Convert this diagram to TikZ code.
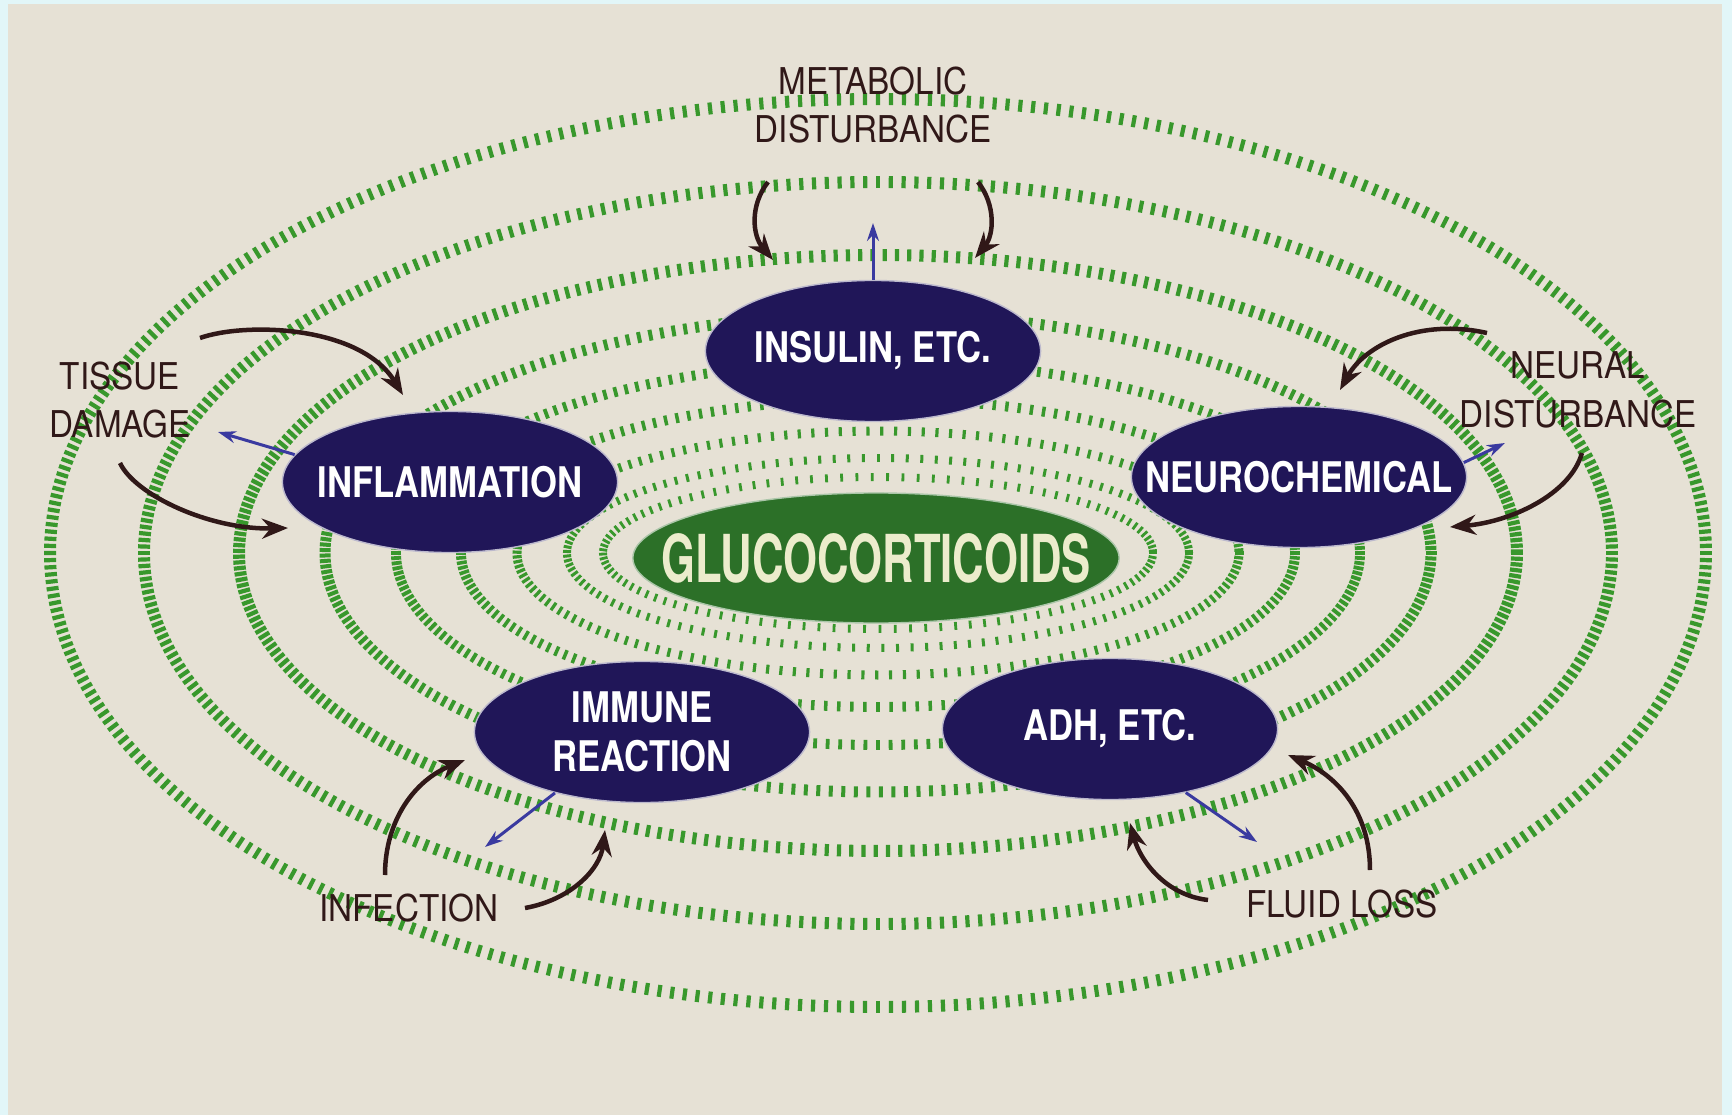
\documentclass[tikz,border=0pt]{standalone}
\usepackage{fontspec}
\setmainfont{TeX Gyre Heros}
\newfontfamily\boxfont[FakeStretch=0.82]{TeX Gyre Heros}
\newfontfamily\corefont[FakeStretch=0.66]{TeX Gyre Heros}
\newfontfamily\labelfont[FakeStretch=0.9]{TeX Gyre Heros}
\usetikzlibrary{positioning,arrows.meta,shapes.geometric}
\definecolor{cslide}{RGB}{230,225,213}
\definecolor{cedge}{RGB}{226,246,248}
\definecolor{cring}{RGB}{56,152,44}
\definecolor{cnavy}{RGB}{32,22,88}
\definecolor{ccore}{RGB}{44,112,40}
\definecolor{ccoretext}{RGB}{236,236,204}
\definecolor{cink}{RGB}{48,24,24}
\definecolor{cout}{RGB}{58,58,160}

\begin{document}
\begin{tikzpicture}[x=0.01cm,y=-0.01cm,
          every node/.style={inner sep=0pt},
          effect/.style={ellipse, fill=cnavy, draw=white!70!cnavy, line width=0.4pt,
          inner xsep=-2cm, inner ysep=-1cm,
          minimum width=3.35cm, minimum height=1.41cm, align=center, text=white,
          font=\boxfont\bfseries\fontsize{12}{14}\selectfont},
          core/.style={ellipse, fill=ccore, draw=white!60!ccore, line width=0.4pt,
          inner xsep=-2cm, inner ysep=-1cm,
          minimum width=4.86cm, minimum height=1.30cm, text=ccoretext,
          font=\corefont\bfseries\fontsize{18.8}{20}\selectfont},
          cause/.style={align=center, text=cink,
          font=\labelfont\fontsize{10.5}{13.8}\selectfont},
          tick/.style={cring},
          push/.style={-{Stealth[length=0.26cm,width=0.2cm]}, cink, line width=0.045cm},
          feed/.style={-{Stealth[length=0.18cm,width=0.12cm]}, cout, line width=0.03cm},
        ]

          % ── Slide ────────────────────────────────────────────
          \useasboundingbox (0,0) rectangle (1732,1115);
          \fill[cedge]  (0,0) rectangle (1732,1115);
          \fill[cslide] (8,4) rectangle (1722,1115);

          % ── Rings of ticks round the core ────────────────────
          % radius x / radius y / half tick / step (deg) / tick width
          \foreach \rx/\ry/\hh/\dang/\tw in {275/76/4/3.2/0.028, 311/95/4/2.7/0.03,
                                   361/122/4.5/2.2/0.032, 417/154/5/1.8/0.035,
                                   482/192/5/1.5/0.038, 553/239/5.5/1.3/0.04,
                                   639/298/6/1.1/0.042, 734/371/6/1.0/0.042, 828/454/6/0.9/0.042}{
            \foreach \ang in {0,\dang,...,359.9}{
              \pgfmathsetmacro\nx{\ry*cos(\ang)}
              \pgfmathsetmacro\ny{\rx*sin(\ang)}
              \pgfmathsetmacro\nl{veclen(\nx,\ny)}
              \draw[tick, line width=\tw cm]
                ({878+\rx*cos(\ang)-\hh*\nx/\nl},{553+\ry*sin(\ang)-\hh*\ny/\nl})
                -- ++({2*\hh*\nx/\nl},{2*\hh*\ny/\nl});
            }
          }

          % ── Effects and core ─────────────────────────────────
          \node[effect] (insulin) at (873,351)  {INSULIN, ETC.};
          \node[effect] (inflam)  at (450,482)  {INFLAMMATION};
          \node[effect] (neuro)   at (1299,477) {NEUROCHEMICAL};
          \node[effect] (immune)  at (642,732)  {IMMUNE\\REACTION};
          \node[effect] (adh)     at (1110,729) {ADH, ETC.};
          \node[core]   (gluco)   at (876,558)  {GLUCOCORTICOIDS};

          % ── Causes ───────────────────────────────────────────
          \node[cause] (metab)  at (873,105)  {METABOLIC\\DISTURBANCE};
          \node[cause] (tissue) at (120,400)  {TISSUE\\DAMAGE};
          \node[cause] (neural) at (1578,390) {NEURAL\\DISTURBANCE};
          \node[cause] (infect) at (409,908)  {INFECTION};
          \node[cause] (fluid)  at (1342,904) {FLUID LOSS};

          % ── Arrow ends ───────────────────────────────────────
          \coordinate (m1a) at (768,182);  \coordinate (m1b) at (773,260);
          \coordinate (m2a) at (978,182);  \coordinate (m2b) at (975,258);
          \coordinate (t1a) at (200,338);  \coordinate (t1b) at (403,395);
          \coordinate (t2a) at (120,463);  \coordinate (t2b) at (288,528);
          \coordinate (n1a) at (1487,333); \coordinate (n1b) at (1340,390);
          \coordinate (n2a) at (1582,453); \coordinate (n2b) at (1450,527);
          \coordinate (i1a) at (385,875);  \coordinate (i1b) at (465,760);
          \coordinate (i2a) at (525,908);  \coordinate (i2b) at (605,830);
          \coordinate (f1a) at (1208,900); \coordinate (f1b) at (1130,823);
          \coordinate (f2a) at (1370,870); \coordinate (f2b) at (1288,755);

          \coordinate (insout)  at (873,223);
          \coordinate (inflout) at (218,432);
          \coordinate (neuout)  at (1505,443);
          \coordinate (immout)  at (485,847);
          \coordinate (adhout)  at (1257,842);

          % ── Disturbances pushing in ──────────────────────────
          \draw[push] (m1a) .. controls (750,205) and (752,235) .. (m1b);
          \draw[push] (m2a) .. controls (996,205) and (994,235) .. (m2b);
          \draw[push] (t1a) .. controls (245,322) and (360,325) .. (t1b);
          \draw[push] (t2a) .. controls (135,495) and (210,530) .. (t2b);
          \draw[push] (n1a) .. controls (1420,318) and (1365,345) .. (n1b);
          \draw[push] (n2a) .. controls (1570,495) and (1510,522) .. (n2b);
          \draw[push] (i1a) .. controls (385,820) and (415,780) .. (i1b);
          \draw[push] (i2a) .. controls (570,900) and (600,870) .. (i2b);
          \draw[push] (f1a) .. controls (1165,895) and (1140,860) .. (f1b);
          \draw[push] (f2a) .. controls (1370,810) and (1335,775) .. (f2b);

          % ── Responses going out ──────────────────────────────
          \draw[feed] (insulin.north) -- (insout);
          \draw[feed] (inflam.170)    -- (inflout);
          \draw[feed] (neuro.5)       -- (neuout);
          \draw[feed] (immune.-145)   -- (immout);
          \draw[feed] (adh.-40)       -- (adhout);

        \end{tikzpicture}
\end{document}
